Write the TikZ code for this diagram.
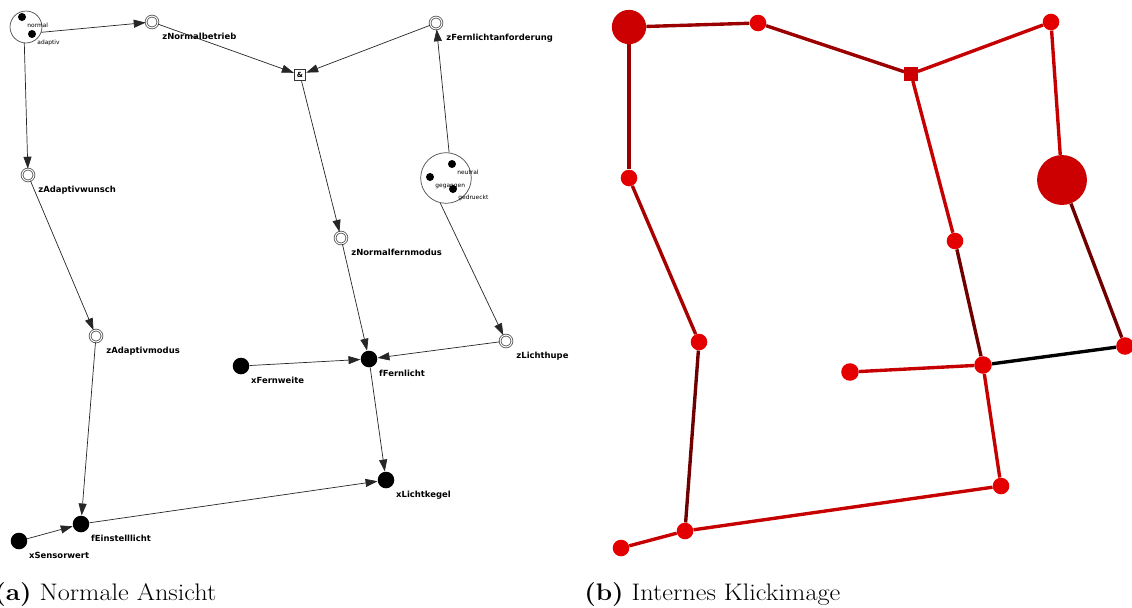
\documentclass[tikz,border=0pt]{standalone}
\usepackage{fontspec}
\usetikzlibrary{arrows.meta,positioning}
\newfontfamily\lblfont{DejaVu Sans}
\newfontfamily\capfont{Latin Modern Roman}[FakeStretch=1.1]

% Farben fuer das Klickbild
\definecolor{hitred}{RGB}{228,0,0}
\definecolor{hitbig}{RGB}{204,0,0}
\definecolor{linkred}{RGB}{198,0,0}
\definecolor{linkdark}{RGB}{155,0,0}
\definecolor{linkdeep}{RGB}{112,0,0}

\tikzset{
  edge/.style={draw=black!85, line width=0.5pt, -{Triangle[length=8.5pt,width=5.7pt]}},
  ring/.style={circle, draw=black!65, double=white, double distance=0.7pt, line width=0.6pt,
    minimum size=8.4pt, inner sep=0pt},
  dot/.style={circle, fill=black, minimum size=11.8pt, inner sep=0pt},
  state/.style={circle, draw=black!70, line width=0.5pt, minimum size=#1, inner sep=0pt},
  sub/.style={circle, fill=black, minimum size=5.7pt, inner sep=0pt},
  andbox/.style={rectangle, draw=black!80, line width=0.5pt, minimum size=8.3pt, inner sep=0pt,
    font=\lblfont\bfseries\fontsize{5}{6}\selectfont},
  lbl/.style={font=\lblfont\bfseries\fontsize{6}{7}\selectfont, inner sep=0pt},
  tinylbl/.style={font=\lblfont\fontsize{4.2}{5}\selectfont, inner sep=0pt},
  ringlab/.style={label={[lbl,anchor=base west,label distance=10pt]-60:#1}},
  dotlab/.style={label={[lbl,anchor=base west,label distance=8pt]-60:#1}},
  sublab/.style={label={[tinylbl,anchor=base west,label distance=5pt]-63:#1}},
  % Klickbild
  hit/.style={circle, fill=hitred, minimum size=11.8pt, inner sep=0pt},
  bighit/.style={circle, fill=hitbig, minimum size=#1, inner sep=0pt},
  link/.style={draw=#1, line width=2.4pt},
  caption/.style={anchor=base west, inner sep=0pt, font=\capfont\fontsize{17}{20}\selectfont}
}

\begin{document}
\begin{tikzpicture}[x=0.025cm, y=-0.025cm]
    \useasboundingbox (0,0) rectangle (1132,607);

    % (a) normale Ansicht
    \node[state=22.7pt] (st) at (26,27) {};
    \node[sub, sublab=normal] (sNormal) at (22,17) {};
    \node[sub, sublab=adaptiv] (sAdaptiv) at (32,34) {};

    \node[ring, ringlab=zNormalbetrieb] (zNb) at (152,22) {};
    \node[andbox] (und) at (300,75) {\&};
    \node[ring, ringlab=zFernlichtanforderung] (zFa) at (436,23) {};

    \node[state=36pt] (gg) at (446,178) {};
    \node[sub, sublab=neutral] (sNeutral) at (452,164) {};
    \node[sub, sublab=gegangen] (sGegangen) at (430,177) {};
    \node[sub, sublab=gedrueckt] (sGedrueckt) at (453,189) {};

    \node[ring, ringlab=zAdaptivwunsch] (zAw) at (28,175) {};
    \node[ring, ringlab=zAdaptivmodus] (zAm) at (96,336) {};
    \node[ring, ringlab=zNormalfernmodus] (zNf) at (341,238) {};
    \node[ring, ringlab=zLichthupe] (zLh) at (506,341) {};

    \node[dot, dotlab=fFernlicht] (fFl) at (369,359) {};
    \node[dot, dotlab=xFernweite] (xFw) at (241,366) {};
    \node[dot, dotlab=xLichtkegel] (xLk) at (386,480) {};
    \node[dot, dotlab=fEinstelllicht] (fEl) at (81,524) {};
    \node[dot, dotlab=xSensorwert] (xSw) at (19,541) {};

    \draw[edge] (st.-19) -- (zNb);
    \draw[edge] (st.264) -- (zAw);
    \draw[edge] (zNb) -- (und);
    \draw[edge] (zFa) -- (und);
    \draw[edge] (und) -- (zNf);
    \draw[edge] (gg.83) -- (zFa);
    \draw[edge] (gg.257) -- (zLh);
    \draw[edge] (zAw) -- (zAm);
    \draw[edge] (zAm) -- (fEl);
    \draw[edge] (zNf) -- (fFl);
    \draw[edge] (xFw) -- (fFl);
    \draw[edge] (zLh) -- (fFl);
    \draw[edge] (fFl) -- (xLk);
    \draw[edge] (fEl) -- (xLk);
    \draw[edge] (xSw) -- (fEl);

    % (b) internes Klickbild
    \node[bighit=24.4pt] (kst) at (629,27) {};
    \node[hit] (kzNb) at (758,23) {};
    \node[rectangle, fill=hitbig, minimum size=9.5pt, inner sep=0pt] (kund) at (911,74) {};
    \node[hit] (kzFa) at (1051,22) {};
    \node[bighit=35.5pt] (kgg) at (1062,180) {};
    \node[hit] (kzAw) at (629,178) {};
    \node[hit] (kzAm) at (699,342) {};
    \node[hit] (kzNf) at (955,241) {};
    \node[hit, minimum size=12.5pt] (kfFl) at (983,365) {};
    \node[hit, minimum size=12.5pt] (kxFw) at (850,372) {};
    \node[hit, minimum size=12.5pt] (kzLh) at (1125,346) {};
    \node[hit] (kxLk) at (1001,486) {};
    \node[hit] (kfEl) at (685,531) {};
    \node[hit] (kxSw) at (621,548) {};

    \draw[link=linkdark] (kst) -- (kzNb);
    \draw[link=linkdark] (kzNb) -- (kund);
    \draw[link=linkred] (kzFa) -- (kund);
    \draw[link=linkred] (kgg) -- (kzFa);
    \draw[link=linkdeep] (kgg) -- (kzLh);
    \draw[link=black] (kzLh) -- (kfFl);
    \draw[link=linkred] (kund) -- (kzNf);
    \draw[link=linkdeep] (kzNf) -- (kfFl);
    \draw[link=linkred] (kxFw) -- (kfFl);
    \draw[link=linkred] (kfFl) -- (kxLk);
    \draw[link=linkred] (kfEl) -- (kxLk);
    \draw[link=linkred] (kxSw) -- (kfEl);
    \draw[link=linkdark] (kst) -- (kzAw);
    \draw[link=linkred!85!black] (kzAw) -- (kzAm);
    \draw[link=linkdeep] (kzAm) -- (kfEl);

    % Unterschriften
    \node[caption] (capA) at (-6,600) {\textbf{(a)} Normale Ansicht};
    \node[caption] (capB) at (584,600) {\textbf{(b)} Internes Klickimage};
\end{tikzpicture}
\end{document}
